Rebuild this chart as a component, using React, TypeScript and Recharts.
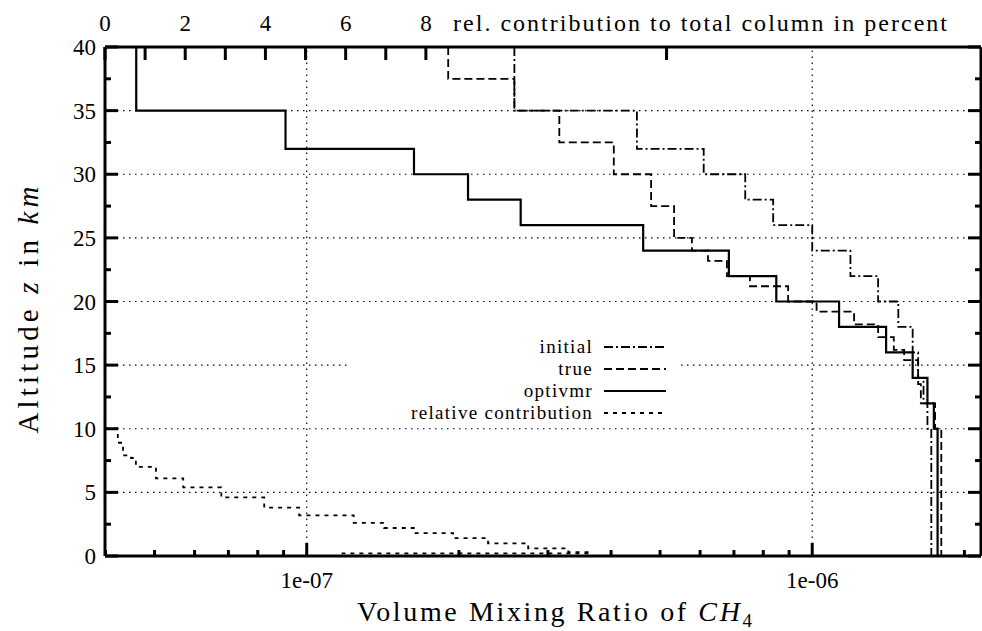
import React from 'react';
import { ComposedChart, Scatter, XAxis, YAxis, ReferenceLine } from 'recharts';

// layer boundaries in km (top to bottom) and the value inside each layer
const optivmrAlt = [40, 35, 32, 30, 28, 26, 24, 22, 20, 18, 16, 14, 12, 10, 0];
const optivmrVmr = [4.6e-8, 9.08e-8, 1.63e-7, 2.085e-7, 2.65e-7, 4.63e-7, 6.84e-7, 8.49e-7, 1.13e-6, 1.4e-6, 1.58e-6, 1.69e-6, 1.74e-6, 1.77e-6];

const initialAlt = [40, 35, 32, 30, 28, 26, 24, 22, 20, 18, 16, 14, 12, 10, 0];
const initialVmr = [2.575e-7, 4.5e-7, 6.1e-7, 7.37e-7, 8.37e-7, 1.0e-6, 1.19e-6, 1.35e-6, 1.48e-6, 1.58e-6, 1.62e-6, 1.66e-6, 1.69e-6, 1.72e-6];

const trueAlt = [40, 37.5, 35, 32.5, 30, 27.5, 25, 24, 23.2, 22, 21.2, 20, 19.2, 18.2, 17.2, 16.2, 15.4, 13.5, 12, 10, 0];
const trueVmr = [1.905e-7, 2.575e-7, 3.16e-7, 4.05e-7, 4.8e-7, 5.33e-7, 5.78e-7, 6.22e-7, 6.78e-7, 7.53e-7, 8.96e-7, 1.02e-6, 1.21e-6, 1.35e-6, 1.45e-6, 1.52e-6, 1.62e-6, 1.64e-6, 1.75e-6, 1.8e-6];

// relative contribution (percent, top axis) as steps
const relPct = [0, 0.32, 0.45, 0.65, 0.77, 1.27, 1.95, 2.9, 3.97, 4.84, 6.2, 6.96, 7.7, 8.68, 9.55, 10.55, 11.55, 12.1];
const relAlt = [10, 8.9, 7.9, 7.7, 7.0, 6.1, 5.4, 4.6, 3.8, 3.2, 2.6, 2.2, 1.8, 1.4, 1.0, 0.6, 0.3, 0.3];
const relTailPct = [12.1, 5.9];
const relTailAlt = [0.2, 0.2];

const vmrTicks = [4e-8, 5e-8, 6e-8, 7e-8, 8e-8, 9e-8, 1e-7, 2e-7, 3e-7, 4e-7, 5e-7, 6e-7, 7e-7, 8e-7, 9e-7, 1e-6, 2e-6];
const vmrMajorTicks = [1e-7, 1e-6];
const vmrMajorLabels = ['1e-07', '1e-06'];
const pctTicks = [0, 1, 2, 3, 4, 5, 6, 7, 8, 14];
const pctLabelTicks = [0, 2, 4, 6, 8];
const altTicks = [0, 2.5, 5, 7.5, 10, 12.5, 15, 17.5, 20, 22.5, 25, 27.5, 30, 32.5, 35, 37.5, 40];
const altGrid = [5, 10, 15, 20, 25, 30, 35];
const vmrGrid = [1e-7, 1e-6];

const FONT = "'Liberation Serif', 'DejaVu Serif', 'Noto Serif', 'Times New Roman', Tinos, Times, serif";
const LEFT = 105;
const RIGHT = 981;
const TOP = 47;
const BOTTOM = 556;

const layerSteps = (alt: number[], val: number[]) =>
  val.flatMap((v, i) => [{ x: v, y: alt[i] }, { x: v, y: alt[i + 1] }]);

const relSteps = [
  ...relPct.flatMap((p, i) =>
    i < relPct.length - 1 ? [{ x: p, y: relAlt[i] }, { x: relPct[i + 1], y: relAlt[i] }] : [{ x: p, y: relAlt[i] }]
  ),
  ...relTailPct.map((p, i) => ({ x: p, y: relTailAlt[i] })),
];

const noDot = () => <g />;

const VmrTick = (props: any) => {
  const { x, payload } = props;
  const idx = vmrMajorTicks.indexOf(payload.value);
  const len = idx >= 0 ? 13 : 6;
  return (
    <g>
      <line x1={x} x2={x} y1={BOTTOM} y2={BOTTOM - len} stroke="#000" strokeWidth={3} />
      {idx >= 0 && (
        <text x={x} y={588} textAnchor="middle" style={{ fontFamily: FONT }} fontSize={23} fill="#000">
          {vmrMajorLabels[idx]}
        </text>
      )}
    </g>
  );
};

const PctTick = (props: any) => {
  const { x, payload } = props;
  const labelled = pctLabelTicks.indexOf(payload.value) >= 0;
  return (
    <g>
      <line x1={x} x2={x} y1={TOP} y2={TOP + 13} stroke="#000" strokeWidth={3} />
      {labelled && (
        <text x={x} y={31} textAnchor="middle" style={{ fontFamily: FONT }} fontSize={23} fill="#000">
          {payload.value}
        </text>
      )}
    </g>
  );
};

const AltTick = (props: any) => {
  const { y, payload } = props;
  const major = payload.value % 5 === 0;
  const len = major ? 13 : 6;
  return (
    <g>
      <line x1={LEFT} x2={LEFT + len} y1={y} y2={y} stroke="#000" strokeWidth={3} />
      {major && (
        <text x={96} y={y + 8} textAnchor="end" style={{ fontFamily: FONT }} fontSize={23} fill="#000">
          {payload.value}
        </text>
      )}
    </g>
  );
};

const AltTickRight = (props: any) => {
  const { y, payload } = props;
  const len = payload.value % 5 === 0 ? 13 : 6;
  return <line x1={RIGHT} x2={RIGHT - len} y1={y} y2={y} stroke="#000" strokeWidth={3} />;
};

const BottomTitle = () => (
  <text x={357} y={621} style={{ fontFamily: FONT }} fontSize={28} fill="#000" textLength={395} lengthAdjust="spacing">
    Volume Mixing Ratio of <tspan fontStyle="italic">CH</tspan>
    <tspan fontSize={19} dy={6}>4</tspan>
  </text>
);

const LeftTitle = () => (
  <text x={38} y={310} transform="rotate(-90 38 310)" textAnchor="middle" style={{ fontFamily: FONT }} fontSize={29} fill="#000" textLength={247} lengthAdjust="spacing">
    Altitude <tspan fontStyle="italic">z</tspan> in <tspan fontStyle="italic">km</tspan>
  </text>
);

const TopTitle = () => (
  <text x={453} y={31} style={{ fontFamily: FONT }} fontSize={24} fill="#000" textLength={494} lengthAdjust="spacing">
    rel. contribution to total column in percent
  </text>
);

const legendItems = [
  { name: 'initial', dash: '9 3 2 3', width: 1.8 },
  { name: 'true', dash: '8 4', width: 1.8 },
  { name: 'optivmr', dash: '', width: 2.2 },
  { name: 'relative contribution', dash: '4 5', width: 1.8 },
];

const LegendBox = () => (
  <div style={{ position: 'absolute', left: 348, top: 336, width: 330, height: 88, background: '#fff', fontFamily: FONT, fontSize: 19, letterSpacing: '1.3px' }}>
    {legendItems.map((it, i) => (
      <div key={it.name} style={{ position: 'absolute', left: 0, top: i * 22, height: 22, width: 330 }}>
        <span style={{ position: 'absolute', right: 85, top: 0, lineHeight: '22px', whiteSpace: 'nowrap' }}>{it.name}</span>
        <svg style={{ position: 'absolute', left: 256, top: 0 }} width={64} height={22}>
          <line x1={0} x2={62} y1={11} y2={11} stroke="#000" strokeWidth={it.width} strokeDasharray={it.dash || undefined} />
        </svg>
      </div>
    ))}
  </div>
);

export default function App() {
  const gridStyle = { stroke: '#000', strokeWidth: 1.2, strokeDasharray: '1.5 4.5' };
  return (
    <div style={{ position: 'absolute', left: 0, top: 0, width: 982, height: 631, background: '#fff', fontFamily: FONT }}>
      <ComposedChart width={982} height={631} margin={{ top: 0, right: 0, bottom: 0, left: 0 }}>
        <XAxis
          xAxisId="vmr"
          orientation="bottom"
          type="number"
          dataKey="x"
          scale="log"
          domain={[3.99e-8, 2.157e-6]}
          allowDataOverflow
          ticks={vmrTicks}
          interval={0}
          height={631 - BOTTOM}
          tickLine={false}
          axisLine={{ stroke: '#000', strokeWidth: 3 }}
          tick={(p: any) => <VmrTick {...p} />}
          label={<BottomTitle />}
        />
        <XAxis
          xAxisId="pct"
          orientation="top"
          type="number"
          dataKey="x"
          domain={[0, 21.84]}
          allowDataOverflow
          ticks={pctTicks}
          interval={0}
          height={TOP}
          tickLine={false}
          axisLine={{ stroke: '#000', strokeWidth: 3 }}
          tick={(p: any) => <PctTick {...p} />}
          label={<TopTitle />}
        />
        <YAxis
          yAxisId="alt"
          orientation="left"
          type="number"
          dataKey="y"
          domain={[0, 40]}
          allowDataOverflow
          ticks={altTicks}
          interval={0}
          width={LEFT}
          tickLine={false}
          axisLine={{ stroke: '#000', strokeWidth: 3 }}
          tick={(p: any) => <AltTick {...p} />}
          label={<LeftTitle />}
        />
        <YAxis
          yAxisId="altR"
          orientation="right"
          type="number"
          dataKey="y"
          domain={[0, 40]}
          allowDataOverflow
          ticks={altTicks}
          interval={0}
          width={982 - RIGHT}
          tickLine={false}
          axisLine={{ stroke: '#000', strokeWidth: 3 }}
          tick={(p: any) => <AltTickRight {...p} />}
        />
        {altGrid.map((v) => (
          <ReferenceLine key={'h' + v} xAxisId="vmr" yAxisId="alt" y={v} {...gridStyle} />
        ))}
        {vmrGrid.map((v) => (
          <ReferenceLine key={'v' + v} xAxisId="vmr" yAxisId="alt" x={v} {...gridStyle} />
        ))}
        <Scatter
          name="initial"
          data={layerSteps(initialAlt, initialVmr)}
          xAxisId="vmr"
          yAxisId="alt"
          line={{ stroke: '#000', strokeWidth: 1.8, strokeDasharray: '9 3 2 3' }}
          lineType="joint"
          shape={noDot}
          isAnimationActive={false}
        />
        <Scatter
          name="true"
          data={layerSteps(trueAlt, trueVmr)}
          xAxisId="vmr"
          yAxisId="alt"
          line={{ stroke: '#000', strokeWidth: 1.8, strokeDasharray: '8 4' }}
          lineType="joint"
          shape={noDot}
          isAnimationActive={false}
        />
        <Scatter
          name="optivmr"
          data={layerSteps(optivmrAlt, optivmrVmr)}
          xAxisId="vmr"
          yAxisId="alt"
          line={{ stroke: '#000', strokeWidth: 2.2 }}
          lineType="joint"
          shape={noDot}
          isAnimationActive={false}
        />
        <Scatter
          name="relative contribution"
          data={relSteps}
          xAxisId="pct"
          yAxisId="alt"
          line={{ stroke: '#000', strokeWidth: 1.8, strokeDasharray: '4 5' }}
          lineType="joint"
          shape={noDot}
          isAnimationActive={false}
        />
      </ComposedChart>
      <LegendBox />
    </div>
  );
}
